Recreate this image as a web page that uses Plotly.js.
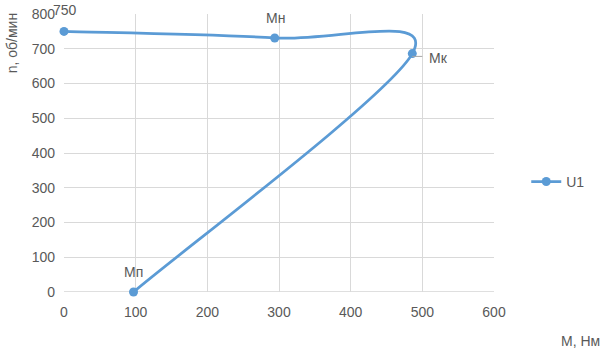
<!DOCTYPE html>
<html><head><meta charset="utf-8">
<script src="https://cdn.plot.ly/plotly-3.0.1.min.js"></script>
<style>body{margin:0}#c{width:603px;height:355px}</style>
</head><body><div id="c"></div>
<script>
const torque = [0, 294, 486, 97];
const speed = [750, 731, 686, 0];
const pointLabels = ['750', 'Mн', 'Mк', 'Mп'];
const seriesName = 'U1';
const xTicks = [0, 100, 200, 300, 400, 500, 600];
const yTicks = [0, 100, 200, 300, 400, 500, 600, 700, 800];

const color = '#5B9BD5';
const font = {family: 'Liberation Sans, Arial, sans-serif', size: 14, color: '#595959'};

// Smoothed line (spreadsheet-style cubic Bezier through the data points), drawn in data coordinates
function smoothPath(xs, ys) {
  const n = xs.length;
  const X = i => xs[Math.max(0, Math.min(n - 1, i))];
  const Y = i => ys[Math.max(0, Math.min(n - 1, i))];
  let d = 'M ' + xs[0] + ',' + ys[0];
  for (let i = 0; i < n - 1; i++) {
    const c1x = X(i) + (X(i + 1) - X(i - 1)) / 6, c1y = Y(i) + (Y(i + 1) - Y(i - 1)) / 6;
    const c2x = X(i + 1) - (X(i + 2) - X(i)) / 6, c2y = Y(i + 1) - (Y(i + 2) - Y(i)) / 6;
    d += ' C ' + c1x + ',' + c1y + ' ' + c2x + ',' + c2y + ' ' + X(i + 1) + ',' + Y(i + 1);
  }
  return d;
}

const labelShifts = [[1, 21], [1, 20], [26, -4], [0, 20]];
const annotations = pointLabels.map((t, i) => ({
  x: torque[i], y: speed[i], xref: 'x', yref: 'y', text: t, showarrow: false,
  xshift: labelShifts[i][0], yshift: labelShifts[i][1], font: font
}));
annotations.push({xref: 'paper', yref: 'paper', x: 1.2, y: -0.177, xanchor: 'center', yanchor: 'middle', text: 'M, Нм', showarrow: false, font: font});
annotations.push({xref: 'paper', yref: 'paper', x: -0.12, y: 0.896, xanchor: 'center', yanchor: 'middle', text: 'n, об/мин', textangle: -90, showarrow: false, font: font});

const data = [
  {x: torque, y: speed, type: 'scatter', mode: 'markers', showlegend: false, cliponaxis: false,
   marker: {color: color, size: 9}},
  {x: [null], y: [null], name: seriesName, type: 'scatter', mode: 'lines+markers',
   line: {color: color, width: 2.75}, marker: {color: color, size: 9}}
];
const layout = {
  width: 603, height: 355,
  margin: {l: 64, r: 109, t: 14, b: 63},
  paper_bgcolor: '#fff', plot_bgcolor: '#fff',
  font: font,
  showlegend: true,
  legend: {x: 1.075, y: 0.396, xanchor: 'left', yanchor: 'middle', font: font},
  xaxis: {range: [0, 600], tickvals: xTicks, showgrid: true, gridcolor: '#d9d9d9', zeroline: false,
          showline: false, ticks: '', tickfont: font, ticklabelstandoff: 10, fixedrange: true},
  yaxis: {range: [0, 800], tickvals: yTicks, showgrid: true, gridcolor: '#d9d9d9', zeroline: false,
          showline: false, ticks: '', tickfont: font, ticklabelstandoff: 8, fixedrange: true},
  annotations: annotations,
  shapes: [
    {type: 'line', xref: 'x', yref: 'y', x0: 0, x1: 600, y0: 0, y1: 0, line: {color: '#bfbfbf', width: 1}, layer: 'below'},
    {type: 'path', xref: 'x', yref: 'y', path: smoothPath(torque, speed), line: {color: color, width: 2.75}, layer: 'between'},
    {type: 'line', xref: 'x', yref: 'y', x0: torque[2], x1: torque[2] + 14, y0: speed[2] - 8, y1: speed[2] - 8, line: {color: '#a6a6a6', width: 1}}
  ]
};
Plotly.newPlot('c', data, layout, {staticPlot: true});
</script></body></html>
